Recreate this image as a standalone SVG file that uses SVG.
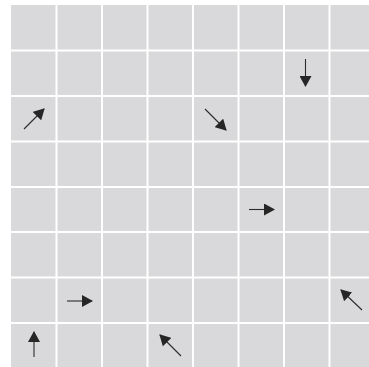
<svg xmlns="http://www.w3.org/2000/svg" width="369" height="367" viewBox="0 0 369 367">
<defs>
<style>
.grid line{stroke:#ffffff;stroke-width:2}
.arr{stroke:#2b2b2b;stroke-width:1.1;fill:none;marker-end:url(#ah)}
</style>
<marker id="ah" markerUnits="userSpaceOnUse" markerWidth="11" markerHeight="12" viewBox="0 0 11 12" refX="10" refY="6" orient="auto">
<path d="M0,0 L11,6 L0,12 z" fill="#262626"/>
</marker>
</defs>
<rect width="369" height="367" fill="#ffffff"/>
<g id="board">
<rect x="11" y="5" width="358" height="362" fill="#d9d9db"/>
<g class="grid">
<line x1="56.5" y1="5" x2="56.5" y2="367"/>
<line x1="102" y1="5" x2="102" y2="367"/>
<line x1="147.5" y1="5" x2="147.5" y2="367"/>
<line x1="193" y1="5" x2="193" y2="367"/>
<line x1="238.5" y1="5" x2="238.5" y2="367"/>
<line x1="284" y1="5" x2="284" y2="367"/>
<line x1="329.5" y1="5" x2="329.5" y2="367"/>
<line x1="11" y1="50.5" x2="369" y2="50.5"/>
<line x1="11" y1="96" x2="369" y2="96"/>
<line x1="11" y1="141.5" x2="369" y2="141.5"/>
<line x1="11" y1="187" x2="369" y2="187"/>
<line x1="11" y1="232" x2="369" y2="232"/>
<line x1="11" y1="277.5" x2="369" y2="277.5"/>
<line x1="11" y1="323" x2="369" y2="323"/>
</g>
</g>
<g id="arrows">
<line class="arr" x1="24" y1="129" x2="44" y2="109"/>
<line class="arr" x1="305.5" y1="59" x2="305.5" y2="86"/>
<line class="arr" x1="205" y1="109" x2="226" y2="130"/>
<line class="arr" x1="249" y1="209.5" x2="274" y2="209.5"/>
<line class="arr" x1="67" y1="301" x2="92" y2="301"/>
<line class="arr" x1="34" y1="357" x2="34" y2="332"/>
<line class="arr" x1="181" y1="356" x2="160" y2="335"/>
<line class="arr" x1="362" y1="310" x2="341" y2="290"/>
</g>
</svg>
